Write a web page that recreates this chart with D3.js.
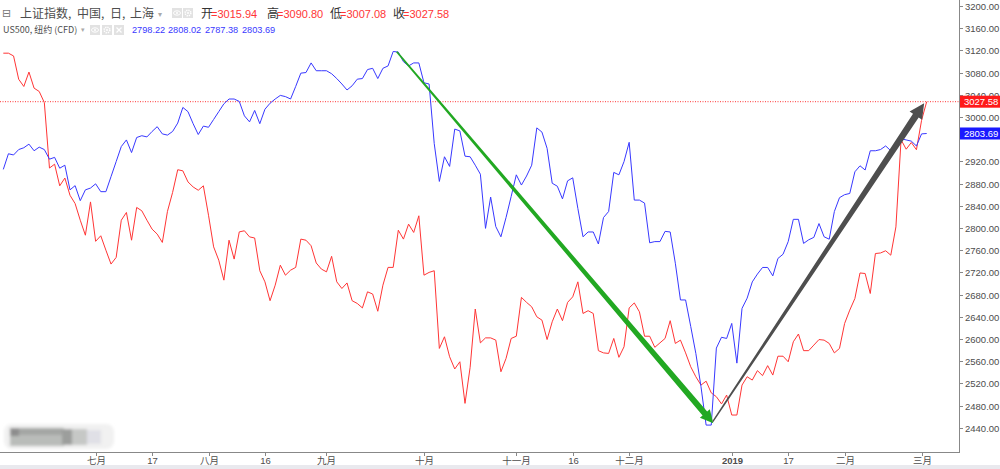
<!DOCTYPE html>
<html><head><meta charset="utf-8">
<script src="https://cdn.jsdelivr.net/npm/d3@7"></script>
<style>body{margin:0;background:#fff;} svg{display:block}</style>
</head><body><svg id="c" width="1000" height="469"></svg>
<script>
// 上证指数 daily close (one value per Shanghai trading day, 2018-06-05 .. 2019-03-04)
const shValues = [
3115,3115,3110,3068,3055,3081,3052,3046,3026,2908,2915,2876,2890,2859,2844,2814,2787,2847,2776,2786,
2760,2735,2747,2814,2828,2778,2837,2831,2814,2798,2789,2774,2830,2864,2905,2903,2883,2874,2868,2876,
2823,2766,2742,2706,2778,2744,2793,2795,2784,
2782,2723,2703,2669,2697,2733,2715,2724,2729,2780,2778,2768,2737,2726,2721,2749,2703,2691,2701,2669,
2664,2656,2685,2681,2650,2697,2729,2729,2796,2780,2807,2792,2822,2715,2720,2723,2583,2604,2568,2546,
2559,2484,2549,2654,2593,2602,2602,2598,
2541,2565,2601,2605,2675,2666,2658,2640,2634,2599,2631,2654,2633,2666,2676,2703,2646,2651,2646,2579,
2575,2574,2601,2567,2586,2656,2665,2649,2605,2605,2585,2593,2601,2633,2592,2598,2575,2550,2532,2517,
2524,2503,2496,2483,2499,2463,2463,2517,2532,
2526,2543,2534,2552,2535,2569,2569,2559,2595,2609,2579,2579,2589,2599,2598,2592,2575,2583,2628,2652,
2673,2719,2718,2682,2754,2755,2759,2751,2802,2959,2942,2954,2941,2994,3027.58];

// US500 (CFD) close on the same bars
const usValues = [
2744,2770,2768,2777,2780,2786,2775,2781,2777,2761,2764,2746,2751,2710,2717,2692,2710,2713,2720,2707,
2707,2732,2757,2782,2793,2772,2797,2800,2798,2807,2815,2803,2801,2807,2821,2847,2840,2820,2802,2816,
2814,2827,2840,2853,2861,2861,2857,2833,2823,
2842,2820,2844,2854,2861,2867,2865,2861,2882,2904,2905,2921,2908,2908,2908,2903,2895,2886,2876,2883,
2894,2895,2910,2912,2895,2912,2916,2940,2939,2923,2916,2921,2921,2888,2886,2787,2724,2765,2749,2811,
2808,2766,2765,2751,2736,2646,2698,2649,
2632,2664,2699,2735,2718,2733,2751,2813,2806,2779,2721,2716,2695,2725,2730,2679,2632,2640,2640,2620,
2664,2674,2739,2735,2757,2789,2693,2693,2688,2622,2624,2624,2641,2640,2588,2527,2527,2483,2438,2383,
2319,2319,2447,2465,2463,2488,2422,2513,2530,
2557,2570,2581,2581,2567,2596,2603,2624,2661,2661,2621,2627,2631,2654,2632,2628,2674,2697,2702,2704,
2740,2750,2743,2775,2775,2777,2783,2775,2782,2795,2793,2791,2783,2803,2803.69];

// time-axis labels and the bar they sit on
const tickBars   = [18, 29, 40, 51, 63, 82, 100, 111, 122, 142, 153, 164, 179];
const tickLabels = ["七月","17","八月","16","九月","十月","十一月","16","十二月","2019","17","二月","三月"];

// price-axis ticks (2960 is fully covered by the US500 tag in the original)
const priceTicks = [3200,3160,3120,3080,3040,3000,2920,2880,2840,2800,2760,2720,2680,2640,2600,2560,2520,2480,2440];

// legend values (O, H, L, C)
const shOHLCLabels = ["开","高","低","收"];
const shOHLC = [3015.94, 3090.80, 3007.08, 3027.58];
const usOHLC = [2798.22, 2808.02, 2787.38, 2803.69];
const shTitle = ["上证指数,", "中国,", "日,", "上海"];
const usTitle = "US500, 纽约 (CFD)";

// drawings: [bar, 上证 price]
const greenArrow = [[76.7, 3117.5], [138.4, 2448]];
const grayArrow  = [[138.3, 2451], [179.5, 3025]];

const RED = "#ff3535", BLUE = "#3838ff", TXT = "#4d4d4d";
const svg = d3.select("#c");
const plotRight = 959, plotBottom = 452;

const x = d3.scaleLinear().domain([0, shValues.length - 1]).range([3.3, 926.7]);
const y = d3.scaleLinear().domain([2440, 3200]).range([427.8, 6]);
const yUS = d3.scaleLinear().domain([2314.5, 3015.6]).range([427.8, 6]);

const lastSH = shValues[shValues.length-1], lastUS = usValues[usValues.length-1];

// background band at bottom
svg.append("rect").attr("x",0).attr("y",465).attr("width",1000).attr("height",4).attr("fill","#e9e9ee");

// blurred watermark
const defs = svg.append("defs");
defs.append("filter").attr("id","blur").attr("x","-20%").attr("y","-50%").attr("width","140%").attr("height","200%")
  .append("feGaussianBlur").attr("stdDeviation",1.6);
defs.append("clipPath").attr("id","aboveTag").append("rect")
  .attr("x",plotRight).attr("y",0).attr("width",50).attr("height",Math.round(y(lastSH)) - 6);
const wm = svg.append("g").attr("filter","url(#blur)");
wm.append("rect").attr("x",4).attr("y",424).attr("width",110).attr("height",25).attr("rx",8).attr("fill","#f1f1f1");
wm.append("rect").attr("x",10).attr("y",428).attr("width",54).attr("height",18).attr("fill","#b9bcb9");
wm.append("rect").attr("x",10).attr("y",428).attr("width",9).attr("height",8).attr("fill","#8d8d8d");
wm.append("rect").attr("x",19).attr("y",428).attr("width",44).attr("height",7).attr("fill","#a4a6a4");
wm.append("rect").attr("x",62).attr("y",429).attr("width",11).attr("height",16).attr("fill","#9c9e9c");
wm.append("rect").attr("x",72).attr("y",429).attr("width",15).attr("height",16).attr("fill","#c6c8c6");
wm.append("rect").attr("x",87).attr("y",430).attr("width",14).attr("height",14).attr("fill","#e0e0e6");

// axis frame
svg.append("line").attr("x1",0).attr("x2",plotRight).attr("y1",plotBottom+0.5).attr("y2",plotBottom+0.5).attr("stroke","#888");
svg.append("line").attr("x1",plotRight+0.5).attr("x2",plotRight+0.5).attr("y1",0).attr("y2",plotBottom+1).attr("stroke","#888");

// price axis
const yAxis = svg.append("g");
priceTicks.forEach(v => {
  const yy = Math.round(y(v)) + 0.5;
  yAxis.append("line").attr("x1",plotRight).attr("x2",plotRight+4).attr("y1",yy).attr("y2",yy).attr("stroke","#888");
  const t = yAxis.append("text").attr("x",965).attr("y",yy).attr("dy","0.35em")
    .attr("font-family","Liberation Sans, Arial, sans-serif").attr("font-size",9.5).attr("fill",TXT)
    .text(v.toFixed(2));
  if (Math.abs(y(v) - y(lastSH)) < 12) t.attr("clip-path","url(#aboveTag)");
});

// time axis
const xAxis = svg.append("g");
tickBars.forEach((b, k) => {
  const xx = Math.round(x(b)) + 0.5;
  xAxis.append("line").attr("x1",xx).attr("x2",xx).attr("y1",plotBottom+1).attr("y2",plotBottom+4).attr("stroke","#888");
  xAxis.append("text").attr("x",xx).attr("y",461).attr("dy","0.35em").attr("text-anchor","middle")
    .attr("font-family","Liberation Sans, Noto Sans CJK SC, sans-serif").attr("font-size",9.5)
    .attr("font-weight", tickLabels[k] === "2019" ? "bold" : "normal")
    .attr("fill", TXT).text(tickLabels[k]);
});

// last price dotted line
svg.append("line").attr("x1",0).attr("x2",plotRight).attr("y1",y(lastSH)).attr("y2",y(lastSH))
  .attr("stroke",RED).attr("stroke-width",1).attr("stroke-dasharray","1,1.5");

// series
const lineSH = d3.line().x((d,i)=>x(i)).y(d=>y(d));
const lineUS = d3.line().x((d,i)=>x(i)).y(d=>yUS(d));
svg.append("path").attr("d",lineSH(shValues)).attr("fill","none").attr("stroke",RED).attr("stroke-width",1);
svg.append("path").attr("d",lineUS(usValues)).attr("fill","none").attr("stroke",BLUE).attr("stroke-width",1);

// tapered arrows
function taperArrow(p0, p1, w0, w1, hw, hl) {
  const dx=p1[0]-p0[0], dy=p1[1]-p0[1], L=Math.hypot(dx,dy);
  const ux=dx/L, uy=dy/L, nx=-uy, ny=ux;
  const bx=p1[0]-ux*hl, by=p1[1]-uy*hl;
  return [
    [p0[0]+nx*w0, p0[1]+ny*w0],[bx+nx*w1, by+ny*w1],[bx+nx*hw, by+ny*hw],p1,
    [bx-nx*hw, by-ny*hw],[bx-nx*w1, by-ny*w1],[p0[0]-nx*w0, p0[1]-ny*w0]];
}
const px = p => [x(p[0]), y(p[1])];
svg.append("path").attr("d", d3.line()(taperArrow(px(greenArrow[0]), px(greenArrow[1]), 0.9, 3.0, 6.5, 13)) + "Z")
  .attr("fill","#22a822");
svg.append("path").attr("d", d3.line()(taperArrow(px(grayArrow[0]), px(grayArrow[1]), 0.7, 3.4, 7.5, 15)) + "Z")
  .attr("fill","#4e4e4e");

// price labels on axis
function priceTag(v, yy, col) {
  svg.append("rect").attr("x",plotRight+1).attr("y",yy-6).attr("width",41).attr("height",12).attr("fill",col);
  svg.append("text").attr("x",964).attr("y",yy).attr("dy","0.35em")
    .attr("font-family","Liberation Sans, Arial, sans-serif").attr("font-size",9.5).attr("fill","#fff").text(v.toFixed(2));
}
priceTag(lastSH, y(lastSH), "#ff1a1a");
priceTag(lastUS, yUS(lastUS), "#1a1aff");

// legend
const lg = svg.append("g");
const cjk = "Noto Sans CJK SC, sans-serif";
const num = "Liberation Sans, Arial, sans-serif";
lg.append("text").attr("x",2).attr("y",17).attr("font-family","DejaVu Sans").attr("font-size",11).attr("fill","#777").text("⊟");
const tX = [20, 77, 110, 130];
shTitle.forEach((t,k)=> lg.append("text").attr("x",tX[k]).attr("y",18).attr("font-family",cjk).attr("font-size",12).attr("fill",TXT).text(t));
lg.append("text").attr("x",158).attr("y",17).attr("font-family","DejaVu Sans").attr("font-size",8).attr("fill","#aaa").text("▾");
function icon(ix, iy, kind) {
  lg.append("rect").attr("x",ix).attr("y",iy).attr("width",10).attr("height",10).attr("fill","#e2e2e2");
  if (kind === "eye") {
    lg.append("ellipse").attr("cx",ix+5).attr("cy",iy+5).attr("rx",3.5).attr("ry",2.2).attr("fill","none").attr("stroke","#fff").attr("stroke-width",1);
    lg.append("circle").attr("cx",ix+5).attr("cy",iy+5).attr("r",1).attr("fill","#fff");
  } else if (kind === "gear") {
    lg.append("circle").attr("cx",ix+5).attr("cy",iy+5).attr("r",2.8).attr("fill","none").attr("stroke","#fff").attr("stroke-width",1.6).attr("stroke-dasharray","1.3,0.9");
    lg.append("circle").attr("cx",ix+5).attr("cy",iy+5).attr("r",1).attr("fill","#fff");
  } else {
    lg.append("path").attr("d",`M${ix+2.5},${iy+2.5}L${ix+7.5},${iy+7.5}M${ix+7.5},${iy+2.5}L${ix+2.5},${iy+7.5}`).attr("stroke","#fff").attr("stroke-width",1.2);
  }
}
icon(172, 8, "eye"); icon(183, 8, "gear");
const oX = [201, 267, 330, 393];
shOHLC.forEach((v,k)=>{
  lg.append("text").attr("x",oX[k]).attr("y",18).attr("font-family",cjk).attr("font-size",12).attr("fill","#333").text(shOHLCLabels[k]);
  lg.append("text").attr("x",oX[k]+10).attr("y",18).attr("font-family",num).attr("font-size",11).attr("fill",RED).text("=" + v.toFixed(2));
});
lg.append("text").attr("x",3).attr("y",33).attr("font-family","Noto Sans CJK SC, Liberation Sans, sans-serif").attr("font-size",9).attr("fill",TXT).text(usTitle);
lg.append("text").attr("x",81).attr("y",32).attr("font-family","DejaVu Sans").attr("font-size",7).attr("fill","#aaa").text("▾");
icon(90, 25, "eye"); icon(102, 25, "gear"); icon(114, 25, "x");
const uX = [132, 168, 205, 242];
usOHLC.forEach((v,k)=> lg.append("text").attr("x",uX[k]).attr("y",33).attr("font-family",num).attr("font-size",9.2).attr("fill",BLUE).text(v.toFixed(2)));
</script></body></html>
